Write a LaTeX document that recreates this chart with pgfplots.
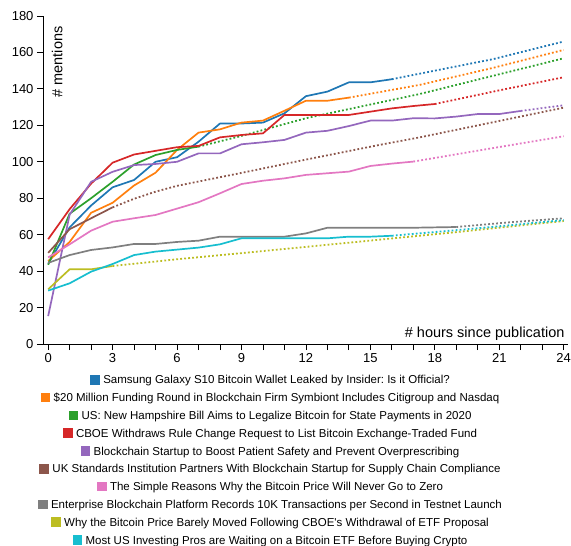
\documentclass[border=0pt]{standalone}
\usepackage{pgfplots}
\pgfplotsset{compat=1.18}
\usepackage{fontspec}
\setmainfont{Liberation Sans}
\frenchspacing
\definecolor{c1}{HTML}{1F77B4}
\definecolor{c2}{HTML}{FF7F0E}
\definecolor{c3}{HTML}{2CA02C}
\definecolor{c4}{HTML}{D62728}
\definecolor{c5}{HTML}{9467BD}
\definecolor{c6}{HTML}{8C564B}
\definecolor{c7}{HTML}{E377C2}
\definecolor{c8}{HTML}{7F7F7F}
\definecolor{c9}{HTML}{BCBD22}
\definecolor{c10}{HTML}{17BECF}
\newcommand{\sq}[1]{\textcolor{#1}{\raisebox{-0.6pt}{\rule{9.5pt}{9.5pt}}}\hspace{3.5pt}}
\begin{document}
\begin{tikzpicture}
\begin{axis}[
  scale only axis, width=525pt, height=328pt,
  xmin=-0.24, xmax=24.2, ymin=0, ymax=180,
  axis lines*=left, axis line style={-, line width=0.8pt},
  tick align=outside, major tick length=6pt,
  tick style={black, line width=0.8pt},
  xtick={0,...,24},
  xticklabels={0,,,3,,,6,,,9,,,12,,,15,,,18,,,21,,,24},
  ytick={0,20,...,180},
  tick label style={font=\fontsize{13}{15}\selectfont},
  /pgf/number format/assume math mode=true,
  legend image code/.code={},
  legend cell align=center,
  legend style={draw=none, fill=none, at={(axis description cs:0.4324,-0.0766)},
    anchor=north, font=\fontsize{11.5}{13}\selectfont,
    nodes={inner sep=0pt, minimum height=17.8pt}, row sep=0pt, column sep=0pt},
  obs/.style={line width=1.7pt, line join=round},
  fc/.style={line width=1.8pt, dash pattern=on 1.8pt off 2.2pt, forget plot},
]
% observed counts (solid) and forecasts (dotted)
\addplot[obs, c1] coordinates {(0,44)(1,64)(2,76)(3,86)(4,90)(5,100)(6,102.5)(7,111)(8,121)(9,121)(10,121.5)(11,126.6)(12,136)(13,138.5)(14,143.6)(15,143.6)(16,145.3)};
\addlegendentry{\sq{c1}Samsung Galaxy S10 Bitcoin Wallet Leaked by Insider: Is it Official?}
\addplot[fc, c1] coordinates {(16,145.3)(18,150)(20.7,156.3)(24,166)};

\addplot[obs, c2] coordinates {(0,45.5)(1,56)(2,72)(3,77.5)(4,87)(5,94)(6,106.5)(7,116)(8,117.8)(9,121.5)(10,122.6)(11,128)(12,133.5)(13,133.5)(14,135.2)};
\addlegendentry{\sq{c2}\$20 Million Funding Round in Blockchain Firm Symbiont Includes Citigroup and Nasdaq}
\addplot[fc, c2] coordinates {(14,135.2)(17.3,142.2)(20.7,151.5)(24,161.4)};

\addplot[obs, c3] coordinates {(0,43.5)(1,71.5)(2,80)(3,89)(4,98.5)(5,103.7)(6,106.5)(7,108.3)};
\addlegendentry{\sq{c3}US: New Hampshire Bill Aims to Legalize Bitcoin for State Payments in 2020}
\addplot[fc, c3] coordinates {(7,108.3)(9,114.2)(12,123.9)(17.3,137.2)(24,156.8)};

\addplot[obs, c4] coordinates {(0,57.5)(1,74)(2,88)(3,99.5)(4,104)(5,106)(6,108)(7,108.7)(8,113.4)(9,114.7)(10,115.6)(11,125.7)(12,125.7)(13,125.7)(14,125.7)(15,127.5)(16,129.3)(17,130.6)(18,131.7)};
\addlegendentry{\sq{c4}CBOE Withdraws Rule Change Request to List Bitcoin Exchange-Traded Fund}
\addplot[fc, c4] coordinates {(18,131.7)(21,139.2)(24,146.4)};

\addplot[obs, c5] coordinates {(0,15.3)(1,71)(2,89)(3,94.5)(4,98.2)(5,98.8)(6,100)(7,104.6)(8,104.6)(9,109.6)(10,110.7)(11,112)(12,116)(13,117)(14,119.6)(15,122.6)(16,122.6)(17,123.9)(18,123.8)(19,124.8)(20,126.2)(21,126.2)(22,127.9)};
\addlegendentry{\sq{c5}Blockchain Startup to Boost Patient Safety and Prevent Overprescribing}
\addplot[fc, c5] coordinates {(22,127.9)(24,131)};

\addplot[obs, c6] coordinates {(0,50)(1,63)(2,69)(3,75)};
\addlegendentry{\sq{c6}UK Standards Institution Partners With Blockchain Startup for Supply Chain Compliance}
\addplot[fc, c6] coordinates {(3,75)(4,79.7)(5,83.6)(6,86.8)(9,93.9)(12,101.2)(15.4,109.2)(17.3,113.4)(24,129.7)};

\addplot[obs, c7] coordinates {(0,47.5)(1,54.7)(2,62.2)(3,67.1)(4,69)(5,70.8)(6,74.3)(7,77.8)(8,82.7)(9,87.8)(10,89.6)(11,90.9)(12,92.8)(13,93.7)(14,94.6)(15,97.7)(16,99)(17,100.1)};
\addlegendentry{\sq{c7}The Simple Reasons Why the Bitcoin Price Will Never Go to Zero}
\addplot[fc, c7] coordinates {(17,100.1)(20.7,107.5)(24,114)};

\addplot[obs, c8] coordinates {(0,44.5)(1,48.8)(2,51.6)(3,53)(4,54.9)(5,54.9)(6,56)(7,56.7)(8,58.9)(9,58.9)(10,58.9)(11,58.9)(12,60.7)(13,63.8)(14,63.8)(15,63.8)(16,63.8)(17,63.8)(18,64)(19,64.2)};
\addlegendentry{\sq{c8}Enterprise Blockchain Platform Records 10K Transactions per Second in Testnet Launch}
\addplot[fc, c8] coordinates {(19,64.2)(21.5,66.8)(24,69)};

\addplot[obs, c9] coordinates {(0,30)(1,41)(2,41)(3,42.8)};
\addlegendentry{\sq{c9}Why the Bitcoin Price Barely Moved Following CBOE\textquotesingle s Withdrawal of ETF Proposal}
\addplot[fc, c9] coordinates {(3,42.8)(6,46.5)(10,51)(14,55.6)(19,61.4)(24,67.5)};

\addplot[obs, c10] coordinates {(0,29.3)(1,33.3)(2,39.7)(3,43.9)(4,48.8)(5,50.7)(6,51.8)(7,52.9)(8,54.7)(9,58)(10,58)(11,58)(12,58)(13,58)(14,58.9)(15,58.9)(16,59.4)};
\addlegendentry{\sq{c10}Most US Investing Pros are Waiting on a Bitcoin ETF Before Buying Crypto}
\addplot[fc, c10] coordinates {(16,59.4)(20,63.5)(24,68)};

\node[rotate=90, anchor=east, font=\fontsize{14.5}{17}\selectfont] at (rel axis cs:0.027,0.979) {\# mentions};
\node[anchor=base east, font=\fontsize{14.5}{17}\selectfont] at (rel axis cs:1,0.0204) {\# hours since publication};
\end{axis}
\pgfresetboundingbox
\path (current axis.south west) ++(-43pt,-202pt) rectangle ++(571pt,546pt);
\end{tikzpicture}
\end{document}
